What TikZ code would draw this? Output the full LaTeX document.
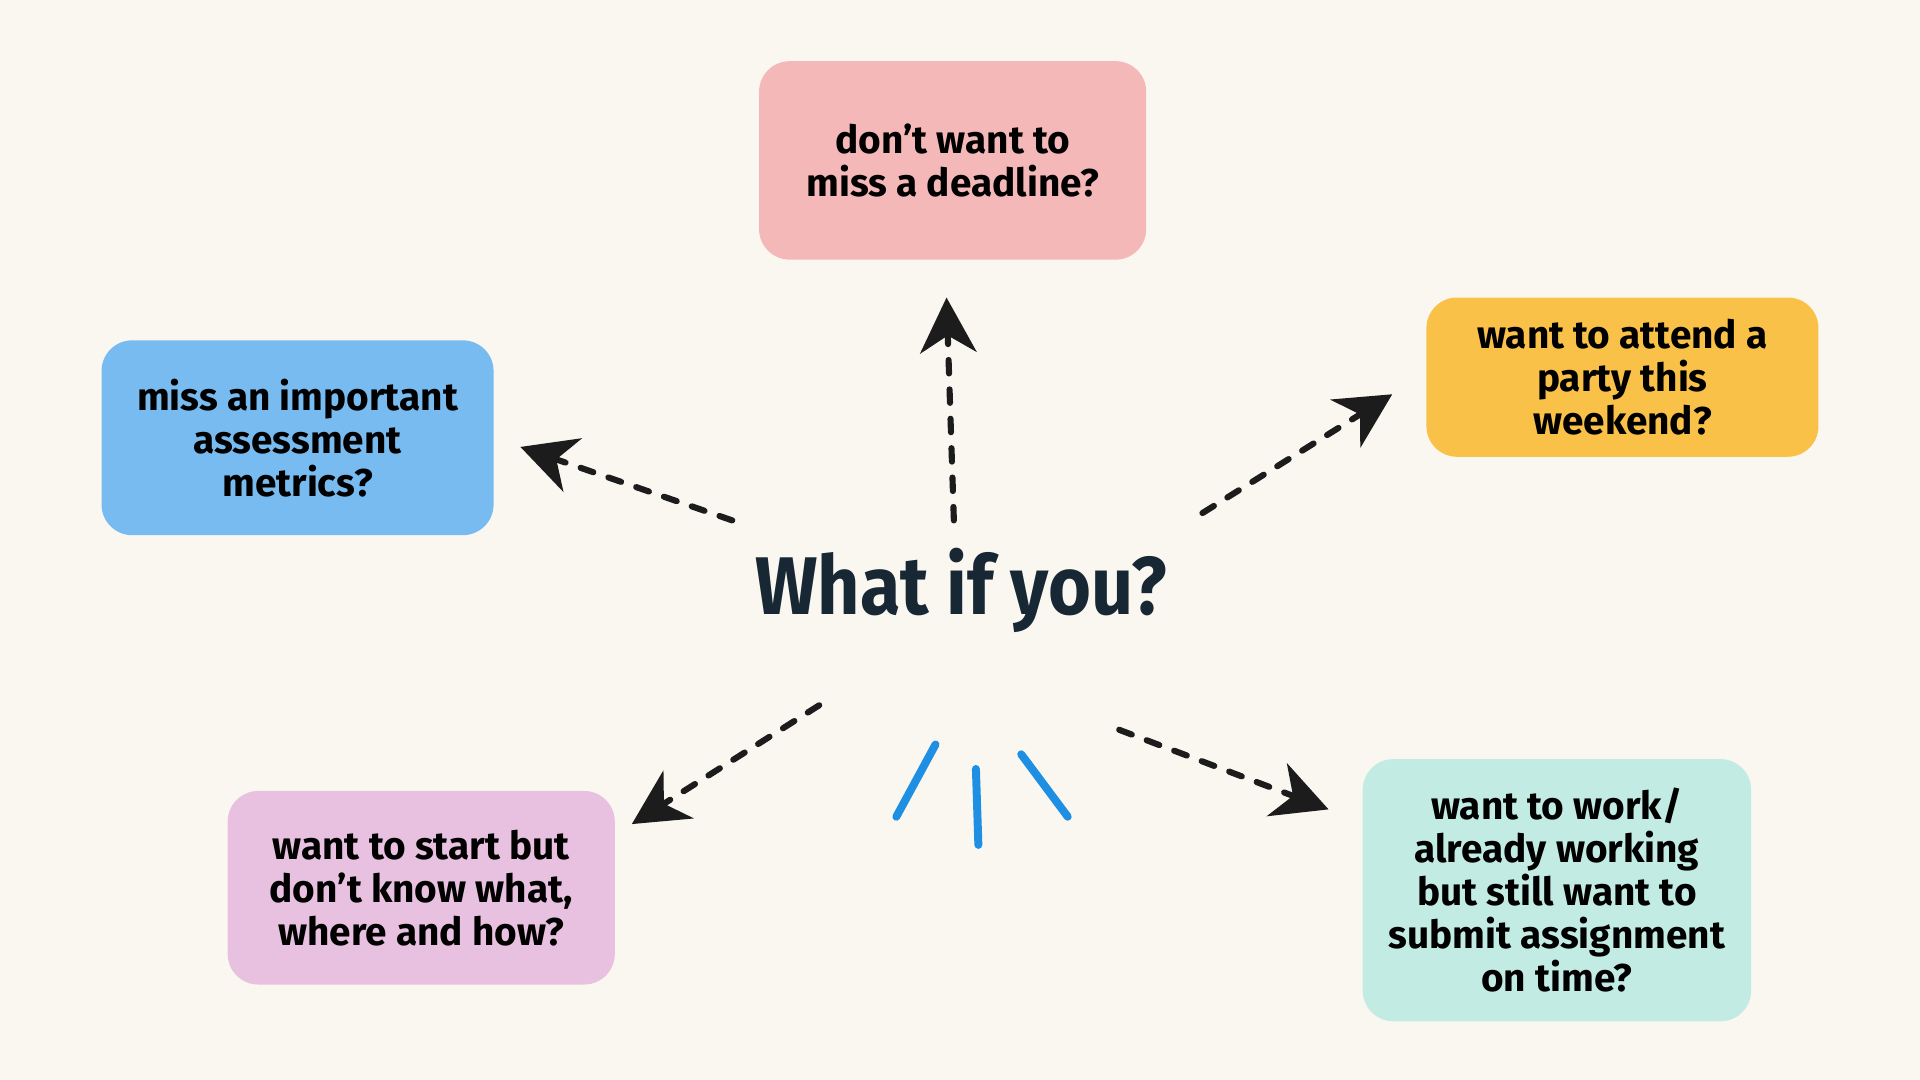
\documentclass[tikz,border=0pt]{standalone}
\usepackage{fontspec}
\setmainfont{Fira Sans}
\usetikzlibrary{arrows.meta}
\definecolor{bg}{HTML}{FAF7F0}
\definecolor{pinkbox}{HTML}{F5B8B8}
\definecolor{orangebox}{HTML}{FAC148}
\definecolor{bluebox}{HTML}{78BBF0}
\definecolor{purplebox}{HTML}{E8C0E0}
\definecolor{tealbox}{HTML}{C2EBE3}
\definecolor{titlecol}{HTML}{172834}
\definecolor{arrowcol}{HTML}{1C1C1C}
\definecolor{brushcol}{HTML}{1E8FE3}
\tikzset{
  qbox/.style={rounded corners=0.25cm, inner sep=0pt, align=center, text=black,
    font=\fontsize{9}{9.96}\selectfont\bfseries},
  dasharrow/.style={draw=arrowcol, line width=0.05cm, line cap=round,
    dash pattern=on 0.11cm off 0.13cm,
    -{Stealth[length=0.45cm, width=0.46cm, inset=0.14cm]}},
  brush/.style={draw=brushcol, line width=0.065cm, line cap=round}
}
\begin{document}
\begin{tikzpicture}[x={(0.01cm,0)}, y={(0,-0.01cm)}]
\fill[bg] (0,0) rectangle (1568,882);
\useasboundingbox (0,0) rectangle (1568,882);

\node[qbox, fill=pinkbox, minimum width=3.16cm, minimum height=1.62cm] (deadline) at (778,131)
  {don’t want to\\miss a deadline?};
\node[qbox, fill=orangebox, minimum width=3.20cm, minimum height=1.30cm] (party) at (1325,308)
  {want to attend a\\party this\\weekend?};
\node[qbox, fill=bluebox, minimum width=3.20cm, minimum height=1.59cm] (metrics) at (243,357.5)
  {miss an important\\assessment\\metrics?};
\node[qbox, fill=purplebox, minimum width=3.16cm, minimum height=1.58cm] (start) at (344,725)
  {want to start but\\don’t know what,\\where and how?};
\node[qbox, fill=tealbox, minimum width=3.17cm, minimum height=2.14cm] (work) at (1271.5,727)
  {want to work/\\already working\\but still want to\\submit assignment\\on time?};

\node[text=titlecol, font=\fontsize{19}{22}\selectfont\bfseries] (title) at (785,482)
  {\scalebox{0.9}[1]{What if you?}};

\coordinate (s1) at (779,425);  \coordinate (e1) at (773,243);
\coordinate (s2) at (598,425);  \coordinate (e2) at (425,365);
\coordinate (s3) at (982,419);  \coordinate (e3) at (1137,322);
\coordinate (s4) at (669,576);  \coordinate (e4) at (516,673);
\coordinate (s5) at (914,596);  \coordinate (e5) at (1085,661);

\draw[dasharrow] (s1) -- (e1);
\draw[dasharrow] (s2) -- (e2);
\draw[dasharrow] (s3) -- (e3);
\draw[dasharrow] (s4) -- (e4);
\draw[dasharrow] (s5) -- (e5);

\coordinate (b1a) at (764,608); \coordinate (b1b) at (732,667);
\coordinate (b2a) at (797,628); \coordinate (b2b) at (799,690);
\coordinate (b3a) at (834,616); \coordinate (b3b) at (872,667);
\draw[brush] (b1a) -- (b1b);
\draw[brush] (b2a) -- (b2b);
\draw[brush] (b3a) -- (b3b);
\end{tikzpicture}
\end{document}
